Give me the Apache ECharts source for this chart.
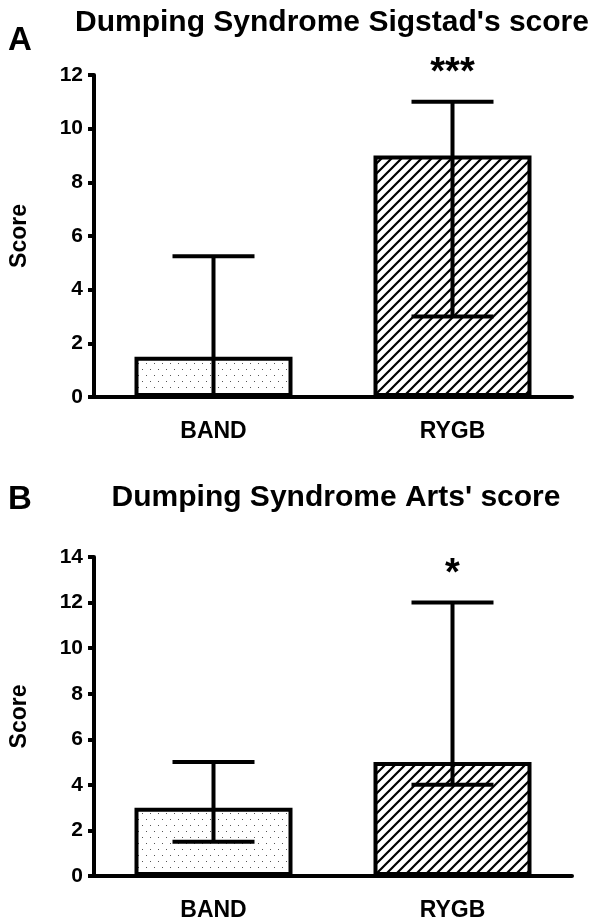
<!DOCTYPE html>
<html><head><meta charset="utf-8">
<script src="https://cdn.jsdelivr.net/npm/echarts@6/dist/echarts.min.js"></script>
<style>html,body{margin:0;padding:0;background:#fff}#c{width:596px;height:922px}</style>
</head><body><div id="c"></div>
<script>
// ---- data ----
const categories = ['BAND', 'RYGB'];
const sigstadMean = [1.5, 9];
const sigstadLow = [0, 3];
const sigstadHigh = [5.25, 11];
const sigstadMarks = ['', '***'];
const artsMean = [3, 5];
const artsLow = [1.5, 4];
const artsHigh = [5, 12];
const artsMarks = ['', '*'];
const sigstadAxis = { min: 0, max: 12, interval: 2 };
const artsAxis = { min: 0, max: 14, interval: 2 };
const panelLetters = ['A', 'B'];
const panelTitles = ["Dumping Syndrome Sigstad's score", "Dumping Syndrome Arts' score"];
const yName = 'Score';

const FONT = '"Liberation Sans", Arial, Helvetica, sans-serif';

function dotPattern() {
  const c = document.createElement('canvas'); c.width = 8; c.height = 12;
  const g = c.getContext('2d');
  g.fillStyle = '#fff'; g.fillRect(0, 0, 8, 12);
  g.fillStyle = '#555'; g.fillRect(2, 3, 1, 1); g.fillRect(6, 9, 1, 1);
  return c;
}
function hatchPattern() {
  const c = document.createElement('canvas'); c.width = 10; c.height = 10;
  const g = c.getContext('2d');
  g.fillStyle = '#fff'; g.fillRect(0, 0, 10, 10);
  g.strokeStyle = '#000'; g.lineWidth = 2.2;
  g.beginPath();
  for (const k of [0, 10, 20]) { g.moveTo(k + 5, -5); g.lineTo(k - 15, 15); }
  g.stroke();
  return c;
}
const fills = [
  { image: dotPattern(), repeat: 'repeat' },
  { image: hatchPattern(), repeat: 'repeat' }
];

function xAxisCfg(gi) {
  return {
    type: 'category', gridIndex: gi, data: categories,
    axisLine: { lineStyle: { color: '#000', width: 4 } },
    axisTick: { alignWithLabel: true, length: 9, lineStyle: { color: '#000', width: 4 } },
    axisLabel: { color: '#000', fontWeight: 'bold', fontSize: 23, fontFamily: FONT, margin: 23 },
    splitLine: { show: false }
  };
}
function yAxisCfg(gi, ax) {
  return {
    type: 'value', gridIndex: gi, min: ax.min, max: ax.max, interval: ax.interval,
    name: yName, nameLocation: 'middle', nameGap: 63,
    nameTextStyle: { color: '#000', fontWeight: 'bold', fontSize: 23, fontFamily: FONT },
    axisLine: { show: true, lineStyle: { color: '#000', width: 4 } },
    axisTick: { show: true, length: 6, lineStyle: { color: '#000', width: 4 } },
    axisLabel: { color: '#000', fontWeight: 'bold', fontSize: 21, fontFamily: FONT, margin: 11 },
    splitLine: { show: false }
  };
}
function barSeries(gi, vals) {
  return {
    type: 'bar', xAxisIndex: gi, yAxisIndex: gi, barWidth: 158, z: 2,
    data: vals.map((v, i) => ({ value: v, itemStyle: { color: fills[i] } })),
    itemStyle: { borderColor: '#000', borderWidth: 4 },
    emphasis: { disabled: true }, silent: true
  };
}
function errSeries(gi, low, high, marks) {
  return {
    type: 'custom', xAxisIndex: gi, yAxisIndex: gi, z: 5, silent: true,
    data: categories.map((c, i) => [i, low[i], high[i]]),
    renderItem(params, api) {
      const x = api.value(0);
      const lo = api.coord([x, api.value(1)]);
      const hi = api.coord([x, api.value(2)]);
      const hw = 41;
      const st = { stroke: '#000', lineWidth: 4 };
      const ch = [
        { type: 'line', shape: { x1: lo[0], y1: lo[1], x2: hi[0], y2: hi[1] }, style: st },
        { type: 'line', shape: { x1: hi[0] - hw, y1: hi[1], x2: hi[0] + hw, y2: hi[1] }, style: st },
        { type: 'line', shape: { x1: lo[0] - hw, y1: lo[1], x2: lo[0] + hw, y2: lo[1] }, style: st }
      ];
      const m = marks[params.dataIndex];
      if (m) ch.push({ type: 'text', style: { text: m, x: hi[0], y: hi[1] - 28, align: 'center', verticalAlign: 'middle', font: 'bold 38px ' + FONT, fill: '#000' } });
      return { type: 'group', children: ch };
    }
  };
}

const chart = echarts.init(document.getElementById('c'), null, { renderer: 'canvas' });
chart.setOption({
  backgroundColor: '#fff',
  animation: false,
  grid: [
    { left: 91, right: 24, top: 75, height: 322 },
    { left: 91, right: 24, top: 557, height: 320 }
  ],
  xAxis: [xAxisCfg(0), xAxisCfg(1)],
  yAxis: [yAxisCfg(0, sigstadAxis), yAxisCfg(1, artsAxis)],
  series: [
    barSeries(0, sigstadMean), errSeries(0, sigstadLow, sigstadHigh, sigstadMarks),
    barSeries(1, artsMean), errSeries(1, artsLow, artsHigh, artsMarks)
  ],
  graphic: [
    { type: 'text', x: 8, y: 41, style: { text: panelLetters[0], font: 'bold 33px ' + FONT, fill: '#000', align: 'left', verticalAlign: 'middle' } },
    { type: 'text', x: 332, y: 23, style: { text: panelTitles[0], font: 'bold 30px ' + FONT, fill: '#000', align: 'center', verticalAlign: 'middle' } },
    { type: 'text', x: 8, y: 500, style: { text: panelLetters[1], font: 'bold 33px ' + FONT, fill: '#000', align: 'left', verticalAlign: 'middle' } },
    { type: 'text', x: 336, y: 498, style: { text: panelTitles[1], font: 'bold 30px ' + FONT, fill: '#000', align: 'center', verticalAlign: 'middle' } }
  ]
});
</script>
</body></html>
